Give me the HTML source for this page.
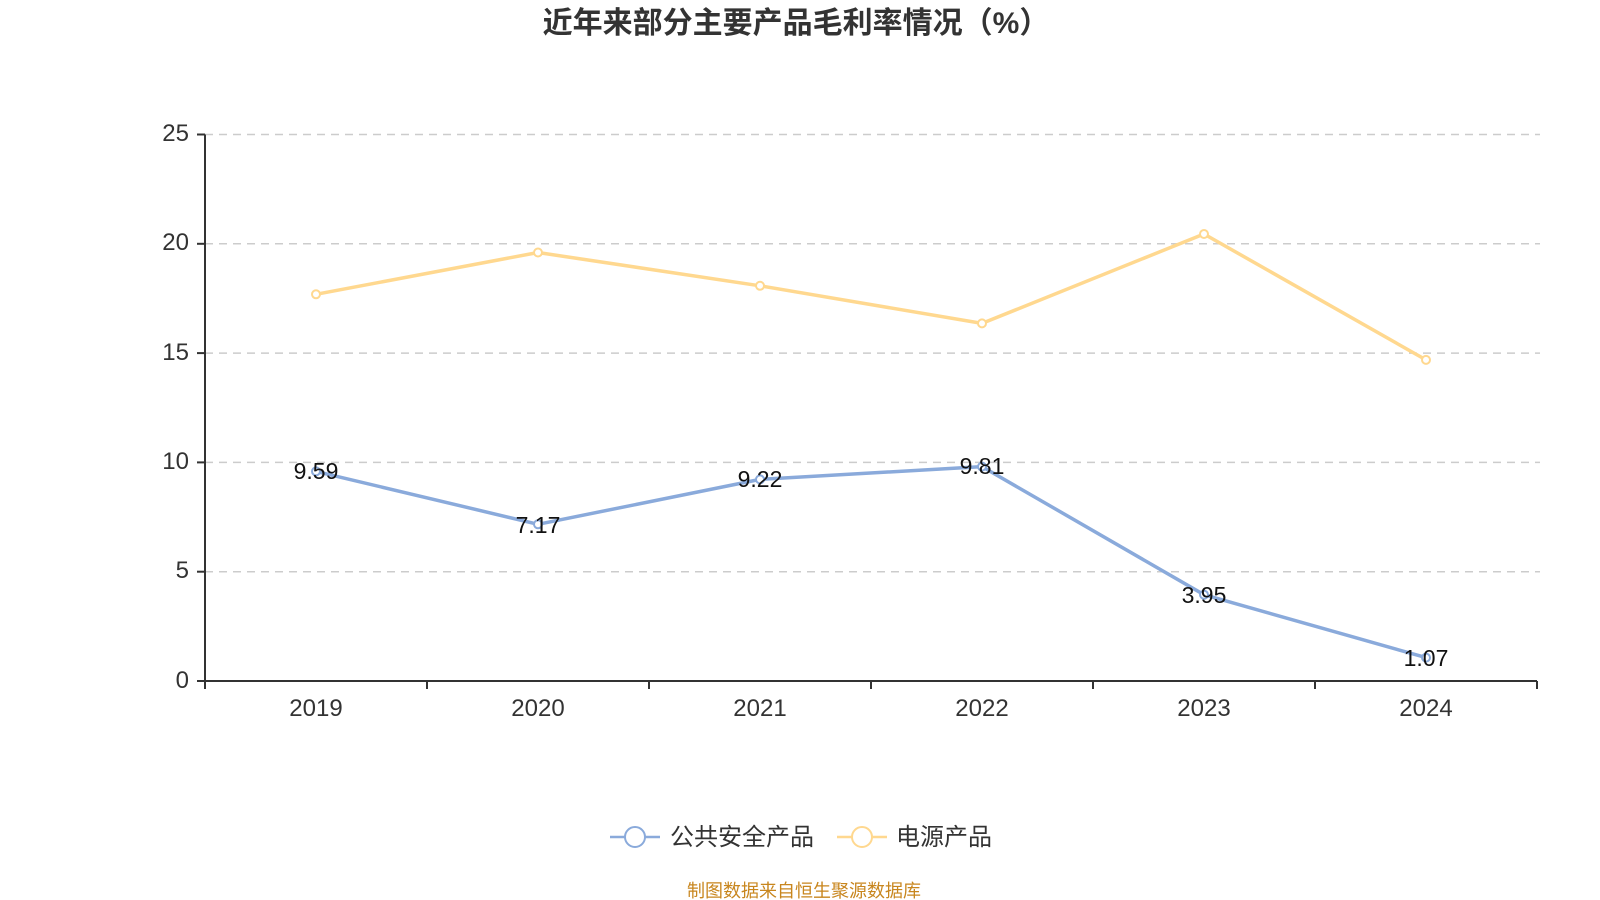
<!DOCTYPE html>
<html><head><meta charset="utf-8"><style>
body{margin:0;background:#fff;}
svg{display:block;font-family:"Liberation Sans","Noto Sans CJK SC",sans-serif;}
</style></head><body>
<svg width="1600" height="900" xmlns="http://www.w3.org/2000/svg">
<text x="796" y="33" text-anchor="middle" font-size="30" font-weight="bold" fill="#333">近年来部分主要产品毛利率情况（%）</text>
<g stroke="#ccc" stroke-width="1.5" stroke-dasharray="8,6">
<line x1="205" y1="134.5" x2="1540" y2="134.5"/>
<line x1="205" y1="243.8" x2="1540" y2="243.8"/>
<line x1="205" y1="353.1" x2="1540" y2="353.1"/>
<line x1="205" y1="462.4" x2="1540" y2="462.4"/>
<line x1="205" y1="571.7" x2="1540" y2="571.7"/>
</g>
<g stroke="#333" stroke-width="2" fill="none">
<line x1="205" y1="134.5" x2="205" y2="681"/>
<line x1="197" y1="134.5" x2="205" y2="134.5"/>
<line x1="197" y1="243.8" x2="205" y2="243.8"/>
<line x1="197" y1="353.1" x2="205" y2="353.1"/>
<line x1="197" y1="462.4" x2="205" y2="462.4"/>
<line x1="197" y1="571.7" x2="205" y2="571.7"/>
<line x1="197" y1="681" x2="205" y2="681"/>
<line x1="205" y1="681" x2="1537" y2="681"/>
<line x1="205" y1="681" x2="205" y2="689"/>
<line x1="427" y1="681" x2="427" y2="689"/>
<line x1="649" y1="681" x2="649" y2="689"/>
<line x1="871" y1="681" x2="871" y2="689"/>
<line x1="1093" y1="681" x2="1093" y2="689"/>
<line x1="1315" y1="681" x2="1315" y2="689"/>
<line x1="1537" y1="681" x2="1537" y2="689"/>
</g>
<g font-size="24" fill="#333" text-anchor="end">
<text x="189" y="141">25</text><text x="189" y="250">20</text><text x="189" y="360">15</text>
<text x="189" y="469">10</text><text x="189" y="578">5</text><text x="189" y="688">0</text>
</g>
<g font-size="24" fill="#333" text-anchor="middle">
<text x="316" y="716">2019</text><text x="538" y="716">2020</text><text x="760" y="716">2021</text>
<text x="982" y="716">2022</text><text x="1204" y="716">2023</text><text x="1426" y="716">2024</text>
</g>
<polyline fill="none" stroke="#ffd88f" stroke-width="3.5" stroke-linejoin="round" points="316,294.3 538,252.5 760,285.8 982,323.4 1204,234 1426,359.9"/>
<g fill="#fff" stroke="#ffd88f" stroke-width="2">
<circle cx="316" cy="294.3" r="4"/><circle cx="538" cy="252.5" r="4"/><circle cx="760" cy="285.8" r="4"/>
<circle cx="982" cy="323.4" r="4"/><circle cx="1204" cy="234" r="4"/><circle cx="1426" cy="359.9" r="4"/>
</g>
<polyline fill="none" stroke="#8aaadb" stroke-width="3.5" stroke-linejoin="round" points="316,471.4 538,524.3 760,479.4 982,466.6 1204,594.7 1426,657.6"/>
<g fill="#fff" stroke="#8aaadb" stroke-width="2">
<circle cx="316" cy="471.4" r="4"/><circle cx="538" cy="524.3" r="4"/><circle cx="760" cy="479.4" r="4"/>
<circle cx="982" cy="466.6" r="4"/><circle cx="1204" cy="594.7" r="4"/><circle cx="1426" cy="657.6" r="4"/>
</g>
<g font-size="23" fill="#111" text-anchor="middle">
<text x="316" y="479">9.59</text><text x="538" y="533">7.17</text><text x="760" y="487">9.22</text>
<text x="982" y="474">9.81</text><text x="1204" y="603">3.95</text><text x="1426" y="666">1.07</text>
</g>
<g>
<line x1="610" y1="837" x2="660" y2="837" stroke="#8aaadb" stroke-width="2.5"/>
<circle cx="635" cy="837" r="10" fill="#fff" stroke="#8aaadb" stroke-width="2"/>
<text x="670" y="845" font-size="24" fill="#333">公共安全产品</text>
<line x1="837" y1="837" x2="887" y2="837" stroke="#ffd88f" stroke-width="2.5"/>
<circle cx="862" cy="837" r="10" fill="#fff" stroke="#ffd88f" stroke-width="2"/>
<text x="896" y="845" font-size="24" fill="#333">电源产品</text>
</g>
<text x="804" y="897" text-anchor="middle" font-size="18" fill="#c8861e">制图数据来自恒生聚源数据库</text>
</svg>
</body></html>
